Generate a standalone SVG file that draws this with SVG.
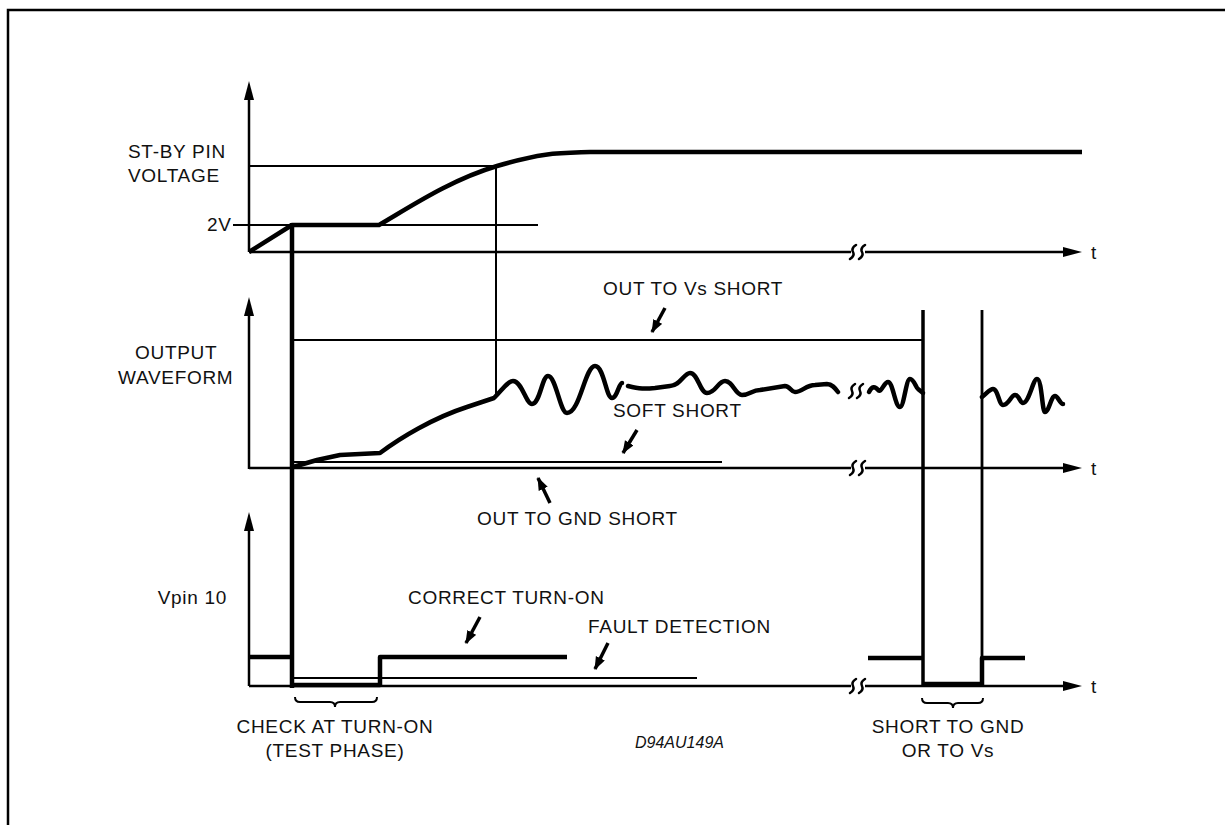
<svg xmlns="http://www.w3.org/2000/svg" width="1225" height="825" viewBox="0 0 1225 825">
<defs>
<style>
text{font-family:"Liberation Sans",Arial,sans-serif;font-size:19px;letter-spacing:0.7px;fill:#111}
.thin{fill:none;stroke:#000;stroke-width:2}
.axis{fill:none;stroke:#000;stroke-width:2.5}
.thick{fill:none;stroke:#000;stroke-width:4.5;stroke-linejoin:round;stroke-linecap:butt}
.wave{fill:none;stroke:#000;stroke-width:4.5;stroke-linejoin:round;stroke-linecap:round}
.brk{fill:none;stroke:#000;stroke-width:2.5;stroke-linecap:round}
.lbl{fill:none;stroke:#000;stroke-width:3.5;marker-end:url(#ah)}
.brace{fill:none;stroke:#000;stroke-width:2}
</style>
<marker id="ah" markerUnits="userSpaceOnUse" markerWidth="14" markerHeight="12" refX="12" refY="5" orient="auto">
<path d="M0,0 L13,5 L0,10 z" fill="#000"/>
</marker>
<path id="bk" d="M3,-7 Q-2,-4 0,0 Q2,4 -3,7"/>
</defs>
<rect width="1225" height="825" fill="#fff"/>
<path d="M8,830 V10 H1230" fill="none" stroke="#000" stroke-width="2.5"/>

<g id="axis-top">
<line class="axis" x1="249" y1="95" x2="249" y2="252"/>
<polygon points="249,81 244,100 254,100"/>
<line class="axis" x1="249" y1="252" x2="1066" y2="252"/>
<polygon points="1082,252 1063,247 1063,257"/>
<rect x="851" y="246" width="14" height="12" fill="#fff"/>
<use href="#bk" class="brk" x="853" y="252"/>
<use href="#bk" class="brk" x="862" y="252"/>
<text x="1091" y="259">t</text>
</g>

<g id="axis-mid">
<line class="axis" x1="249" y1="310" x2="249" y2="469"/>
<polygon points="249,297 244,316 254,316"/>
<line class="axis" x1="249" y1="468" x2="1066" y2="468"/>
<polygon points="1082,468 1063,463 1063,473"/>
<rect x="851" y="462" width="14" height="12" fill="#fff"/>
<use href="#bk" class="brk" x="853" y="468"/>
<use href="#bk" class="brk" x="862" y="468"/>
<text x="1091" y="475">t</text>
</g>

<g id="axis-bot">
<line class="axis" x1="249" y1="525" x2="249" y2="686"/>
<polygon points="249,512 244,531 254,531"/>
<line class="axis" x1="249" y1="686" x2="1066" y2="686"/>
<polygon points="1082,686 1063,681 1063,691"/>
<rect x="851" y="680" width="14" height="12" fill="#fff"/>
<use href="#bk" class="brk" x="853" y="686"/>
<use href="#bk" class="brk" x="862" y="686"/>
<text x="1091" y="693">t</text>
</g>

<g id="guides">
<line class="thin" x1="249" y1="166" x2="496" y2="166"/>
<line class="thin" x1="233" y1="225" x2="538" y2="225"/>
<line class="thin" x1="496" y1="166" x2="496" y2="398"/>
<line class="thin" x1="292" y1="340" x2="923" y2="340"/>
<line class="thin" x1="292" y1="462" x2="722" y2="462"/>
<line class="thin" x1="292" y1="678" x2="697" y2="678"/>
</g>

<g id="standby-trace">
<path class="thick" d="M249,252 L292,225 H379 C410,207 450,180 497,166 S560,153 590,152 H1082"/>
<line class="thick" x1="292" y1="223" x2="292" y2="688"/>
</g>

<g id="output-trace">
<path class="wave" d="M293,467 L317,460 L340,455 L380,453 C400,438 433,418 467,407 L494,398 C503,389 508,381 513,381 C522,381 526,404 532,404 C540,404 542,376 548,376 C556,376 560,413 567,413 C580,413 585,366 595,366 C604,366 606,398 612,398 C617,398 619,383 622,383"/>
<path class="wave" d="M628,386 C640,389 645,389 655,388 L670,386 C680,386 684,373 690,373 C698,373 700,393 707,393 C716,393 718,381 725,381 C733,381 735,395 742,395 C750,395 752,390 760,390 L785,386 C790,386 791,392 795,392 C802,392 806,385 815,385 L827,384 C832,384 835,388 838,392"/>
<use href="#bk" class="brk" x="852" y="391"/>
<use href="#bk" class="brk" x="860" y="391"/>
<path class="wave" d="M869,392 C872,386 875,386 878,390 C881,394 884,382 888,382 C893,382 895,407 900,407 C904,407 906,379 910,379 C914,379 916,388 918,389 L923,393"/>
<path class="wave" d="M982,397 C987,393 990,389 993,389 C998,389 999,405 1003,405 C1009,405 1011,395 1015,395 C1019,395 1020,403 1023,403 C1029,403 1033,379 1037,379 C1042,379 1042,412 1045,412 C1049,412 1051,396 1055,396 C1058,396 1060,404 1063,404"/>
</g>

<g id="vpin-trace">
<line class="thick" x1="249" y1="657" x2="292" y2="657"/>
<path class="thick" d="M292,685 H380 V657 H567"/>
<line class="thick" x1="868" y1="658" x2="923" y2="658"/>
<line x1="923" y1="310" x2="923" y2="686" stroke="#000" stroke-width="3.5"/>
<line class="thick" x1="923" y1="684" x2="982" y2="684"/>
<line x1="982" y1="310" x2="982" y2="658" stroke="#000" stroke-width="2.8"/>
<path class="thick" d="M982,686 V658 H1025"/>
</g>

<g id="label-arrows">
<line class="lbl" x1="665" y1="308" x2="652" y2="332"/>
<line class="lbl" x1="637" y1="430" x2="623" y2="453"/>
<line class="lbl" x1="550" y1="503" x2="538" y2="478"/>
<line class="lbl" x1="480" y1="617" x2="466" y2="643"/>
<line class="lbl" x1="608" y1="643" x2="595" y2="669"/>
</g>

<g id="braces">
<path class="brace" d="M295,697 Q295,702 300,702 H330 Q335,702 335,707 Q335,702 340,702 H372 Q377,702 377,697"/>
<path class="brace" d="M922,698 Q922,703 927,703 H948 Q953,703 953,708 Q953,703 958,703 H978 Q983,703 983,698"/>
</g>

<g id="labels">
<text x="128" y="158">ST-BY PIN</text>
<text x="128" y="182">VOLTAGE</text>
<text x="207" y="231">2V</text>
<text x="135" y="359">OUTPUT</text>
<text x="118" y="384">WAVEFORM</text>
<text x="227" y="604" text-anchor="end">Vpin 10</text>
<text x="603" y="295">OUT TO Vs SHORT</text>
<text x="613" y="417">SOFT SHORT</text>
<text x="477" y="525">OUT TO GND SHORT</text>
<text x="408" y="604">CORRECT TURN-ON</text>
<text x="588" y="633">FAULT DETECTION</text>
<text x="335" y="733" text-anchor="middle">CHECK AT TURN-ON</text>
<text x="335" y="757" text-anchor="middle">(TEST PHASE)</text>
<text x="948" y="733" text-anchor="middle">SHORT TO GND</text>
<text x="948" y="757" text-anchor="middle">OR TO Vs</text>
<text x="635" y="748" style="font-size:16px;font-style:italic;letter-spacing:0">D94AU149A</text>
</g>
</svg>
